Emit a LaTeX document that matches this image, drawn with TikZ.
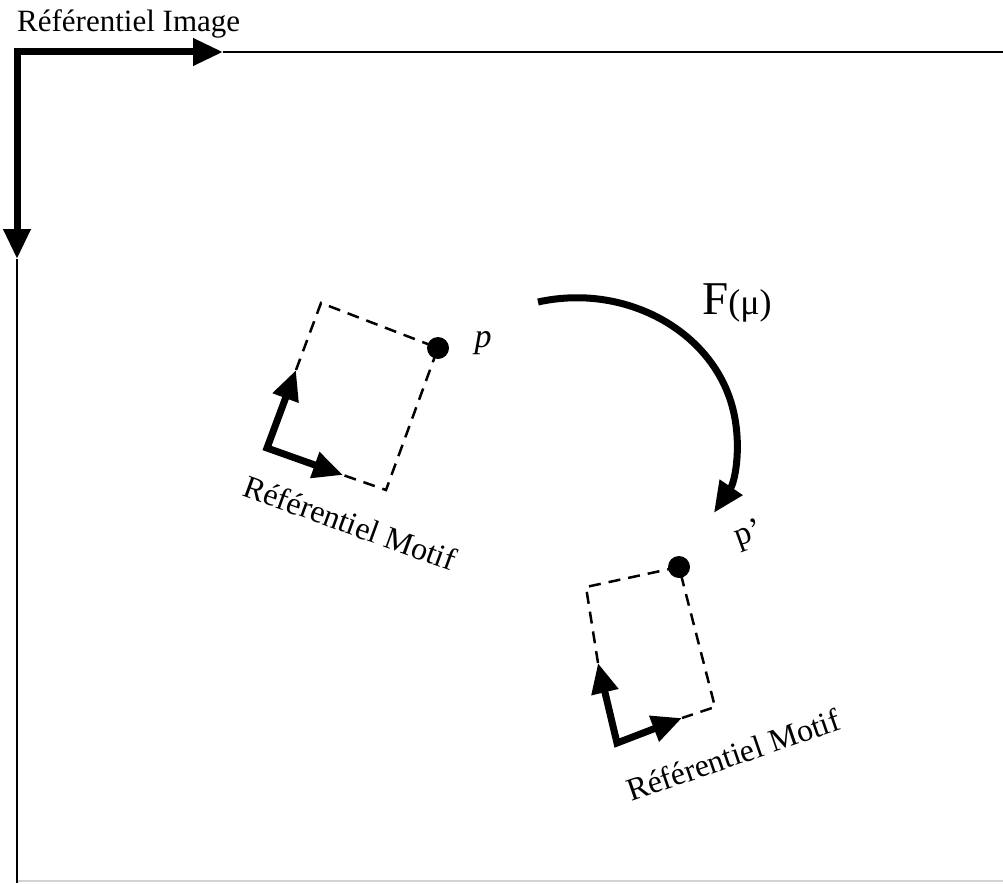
\documentclass[tikz,border=0pt]{standalone}
\usepackage{fontspec}
\setmainfont{Liberation Serif}
\usetikzlibrary{arrows.meta}
\begin{document}
\begin{tikzpicture}[x=1pt,y=-1pt,
  axis/.style={line width=7pt, line join=miter},
  thinaxis/.style={line width=2pt},
  twotips/.style={{Triangle[length=30pt,width=26pt]}-{Triangle[length=30pt,width=26pt]}},
  onetip/.style={-{Triangle[length=31pt,width=26pt]}},
  dashline/.style={line width=2.5pt, dash pattern=on 12pt off 8pt},
  dot/.style={circle, fill=black, inner sep=0pt, minimum size=22pt},
  lbl/.style={font=\fontsize{32}{38}\selectfont, inner sep=0pt}
]
\useasboundingbox (0,0) rectangle (1003,883);
% image frame
\coordinate (O) at (17,52);
\coordinate (X) at (223,52);
\coordinate (Y) at (17,259);
\coordinate (Xend) at (1003,52);
\coordinate (Yend) at (17,883);
\coordinate (G1) at (17,881);
\coordinate (G2) at (1003,881);
\draw[gray!35, line width=1.5pt] (G1) -- (G2);
\draw[thinaxis] (X) -- (Xend);
\draw[thinaxis] (Y) -- (Yend);
\draw[axis, twotips] (Y) -- (O) -- (X);
\node[lbl, font=\fontsize{31}{37}\selectfont, anchor=base west] (title) at (17,32) {Référentiel Image};
% left motif
\coordinate (A0) at (267,448);
\coordinate (Au) at (296,370);
\coordinate (Ar) at (343,475);
\coordinate (ATL) at (321,303);
\coordinate (ABR) at (386,490);
\node[dot] (p1) at (438,348) {};
\draw[dashline] (Au) -- (ATL) -- (p1.center) -- (ABR) -- (Ar);
\draw[axis, twotips] (Au) -- (A0) -- (Ar);
\node[lbl, font=\fontsize{34}{40}\selectfont\itshape] (plab) at (483,343) {p};
\node[lbl, rotate=-20] (mlab1) at (350,523) {Référentiel Motif};
% right motif
\coordinate (B0) at (617,743);
\coordinate (Bu) at (598,663);
\coordinate (Br) at (682,718);
\coordinate (BTL) at (586,587);
\coordinate (BBR) at (715,707);
\node[dot] (p2) at (679,567) {};
\draw[dashline] (Bu) -- (BTL) -- (p2.center) -- (BBR) -- (Br);
\draw[axis, twotips] (Bu) -- (B0) -- (Br);
\node[lbl, font=\fontsize{33}{39}\selectfont, rotate=20] (pplab) at (749,535) {p’};
\node[lbl, rotate=19] (mlab2) at (733,755) {Référentiel Motif};
% transformation arc
\coordinate (F0) at (538,302);
\draw[line width=7pt, onetip] (F0) arc[start angle=-104, end angle=31, x radius=160, y radius=142];
\node[inner sep=0pt, anchor=base west] (Flab) at (702,314) {\fontsize{47}{52}\selectfont F\fontsize{36}{40}\selectfont(μ)};
\end{tikzpicture}
\end{document}
